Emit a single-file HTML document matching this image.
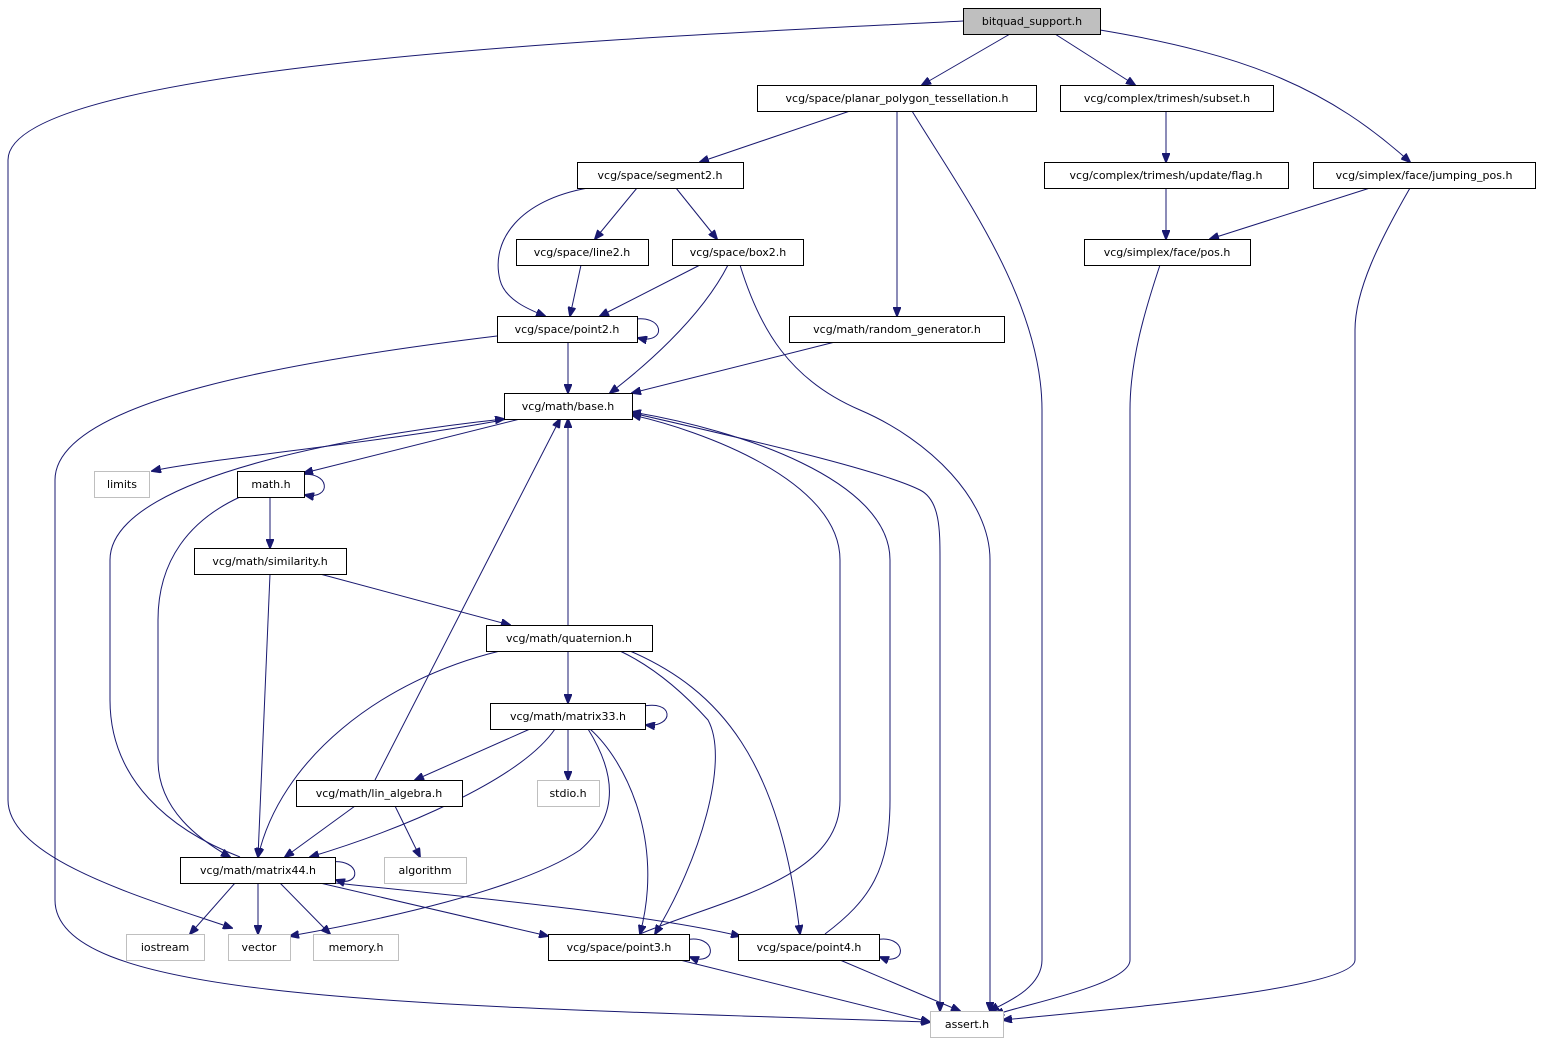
<!DOCTYPE html>
<html><head><meta charset="utf-8"><style>
html,body{margin:0;padding:0;background:#fff;}
svg{display:block;}
text{font-family:"DejaVu Sans","Liberation Sans",sans-serif;font-size:11px;fill:#000;}
.e{fill:none;stroke:#191970;stroke-width:1;marker-end:url(#a);}
.n{fill:#fff;stroke:#000;stroke-width:1;}
.g{fill:#fff;stroke:#bfbfbf;stroke-width:1;}
</style></head><body>
<svg width="1541" height="1045" viewBox="0 0 1541 1045" xmlns="http://www.w3.org/2000/svg">
<defs><marker id="a" markerWidth="10" markerHeight="8" refX="9" refY="4" orient="auto" markerUnits="userSpaceOnUse"><path d="M0,0 L10,4 L0,8 z" fill="#191970" stroke="#191970"/></marker></defs>
<g>
<path class="e" d="M963,21 C700,35 8,60 8,160 L8,800 C8,860 150,900 232,928"/>
<path class="e" d="M1010,34 L922,85"/>
<path class="e" d="M1055,34 L1135,85"/>
<path class="e" d="M1100,30 C1250,55 1330,90 1410,162"/>
<path class="e" d="M850,111 L700,162"/>
<path class="e" d="M897,111 L897,316"/>
<path class="e" d="M912,111 C960,190 1042,300 1042,410 L1042,960 C1042,990 1000,1005 990,1011"/>
<path class="e" d="M1166,111 L1166,162"/>
<path class="e" d="M1166,188 L1166,239"/>
<path class="e" d="M1370,188 L1210,239"/>
<path class="e" d="M1410,188 C1380,240 1355,290 1355,330 L1355,960 C1355,990 1100,1010 1003,1020"/>
<path class="e" d="M1160,265 C1145,310 1130,360 1130,410 L1130,960 C1130,985 1020,1005 995,1015"/>
<path class="e" d="M637,188 L595,239"/>
<path class="e" d="M676,188 L717,239"/>
<path class="e" d="M588,188 C520,200 490,240 500,280 C505,300 530,310 545,316"/>
<path class="e" d="M581,265 L570,316"/>
<path class="e" d="M700,265 L600,316"/>
<path class="e" d="M728,265 C700,320 640,370 610,393"/>
<path class="e" d="M740,265 C760,330 790,380 860,410 C930,440 990,500 990,560 L990,1011"/>
<path class="e" d="M630,320 C665,312 668,345 638,338"/>
<path class="e" d="M568,342 L568,393"/>
<path class="e" d="M497,336 C300,360 55,400 55,480 L55,900 C55,1000 400,1005 930,1022"/>
<path class="e" d="M835,342 L632,393"/>
<path class="e" d="M508,419 C400,440 200,460 152,471"/>
<path class="e" d="M520,419 L304,473"/>
<path class="e" d="M632,413 C750,440 880,470 920,490 C940,500 940,530 940,560 L940,1011"/>
<path class="e" d="M300,475 C330,470 333,500 305,495"/>
<path class="e" d="M270,497 L270,548"/>
<path class="e" d="M240,497 C190,520 158,560 158,620 L158,760 C158,810 200,840 230,857"/>
<path class="e" d="M320,574 L510,625"/>
<path class="e" d="M270,574 L258,857"/>
<path class="e" d="M568,625 L568,419"/>
<path class="e" d="M568,651 L568,703"/>
<path class="e" d="M500,651 C380,680 280,760 258,857"/>
<path class="e" d="M620,651 C660,670 690,700 708,720 C730,760 700,860 655,934"/>
<path class="e" d="M630,651 C720,690 780,760 800,934"/>
<path class="e" d="M640,707 C675,698 675,728 646,725"/>
<path class="e" d="M530,729 L415,780"/>
<path class="e" d="M568,729 L568,780"/>
<path class="e" d="M555,729 C520,780 400,830 310,857"/>
<path class="e" d="M590,729 C625,760 665,840 640,934"/>
<path class="e" d="M588,729 C620,780 615,820 580,850 C520,890 380,920 290,936"/>
<path class="e" d="M375,780 L560,419"/>
<path class="e" d="M395,806 L420,857"/>
<path class="e" d="M355,806 L285,857"/>
<path class="e" d="M240,857 C170,830 110,780 110,700 L110,560 C110,470 400,430 504,419"/>
<path class="e" d="M330,862 C362,858 362,888 336,880"/>
<path class="e" d="M235,883 L190,934"/>
<path class="e" d="M258,883 L258,934"/>
<path class="e" d="M280,883 L330,934"/>
<path class="e" d="M320,883 L548,936"/>
<path class="e" d="M335,883 C500,900 650,915 740,936"/>
<path class="e" d="M640,934 C720,900 840,880 840,800 L840,560 C840,480 700,430 632,415"/>
<path class="e" d="M685,940 C718,933 718,968 690,957"/>
<path class="e" d="M825,934 C870,900 890,870 890,800 L890,560 C890,480 740,430 632,412"/>
<path class="e" d="M875,940 C908,933 908,968 880,957"/>
<path class="e" d="M680,960 L930,1022"/>
<path class="e" d="M840,960 L960,1011"/>
</g>
<g>
<rect x="963.5" y="8.5" width="137" height="26" fill="#bfbfbf" stroke="#000"/><text x="1032" y="25" text-anchor="middle">bitquad_support.h</text>
<rect class="n" x="757.5" y="85.5" width="279" height="26"/><text x="897" y="102" text-anchor="middle">vcg/space/planar_polygon_tessellation.h</text>
<rect class="n" x="1060.5" y="85.5" width="213" height="26"/><text x="1167" y="102" text-anchor="middle">vcg/complex/trimesh/subset.h</text>
<rect class="n" x="577.5" y="162.5" width="166" height="26"/><text x="660" y="179" text-anchor="middle">vcg/space/segment2.h</text>
<rect class="n" x="1044.5" y="162.5" width="244" height="26"/><text x="1166" y="179" text-anchor="middle">vcg/complex/trimesh/update/flag.h</text>
<rect class="n" x="1313.5" y="162.5" width="222" height="26"/><text x="1424" y="179" text-anchor="middle">vcg/simplex/face/jumping_pos.h</text>
<rect class="n" x="516.5" y="239.5" width="132" height="26"/><text x="582" y="256" text-anchor="middle">vcg/space/line2.h</text>
<rect class="n" x="672.5" y="239.5" width="131" height="26"/><text x="738" y="256" text-anchor="middle">vcg/space/box2.h</text>
<rect class="n" x="1084.5" y="239.5" width="166" height="26"/><text x="1167" y="256" text-anchor="middle">vcg/simplex/face/pos.h</text>
<rect class="n" x="497.5" y="316.5" width="140" height="26"/><text x="567" y="333" text-anchor="middle">vcg/space/point2.h</text>
<rect class="n" x="789.5" y="316.5" width="215" height="26"/><text x="897" y="333" text-anchor="middle">vcg/math/random_generator.h</text>
<rect class="n" x="504.5" y="393.5" width="128" height="26"/><text x="568" y="410" text-anchor="middle">vcg/math/base.h</text>
<rect class="g" x="94.5" y="471.5" width="55" height="26"/><text x="122" y="488" text-anchor="middle">limits</text>
<rect class="n" x="237.5" y="471.5" width="67" height="26"/><text x="271" y="488" text-anchor="middle">math.h</text>
<rect class="n" x="194.5" y="548.5" width="152" height="26"/><text x="270" y="565" text-anchor="middle">vcg/math/similarity.h</text>
<rect class="n" x="486.5" y="625.5" width="166" height="26"/><text x="569" y="642" text-anchor="middle">vcg/math/quaternion.h</text>
<rect class="n" x="490.5" y="703.5" width="155" height="26"/><text x="568" y="720" text-anchor="middle">vcg/math/matrix33.h</text>
<rect class="g" x="537.5" y="780.5" width="62" height="26"/><text x="568" y="797" text-anchor="middle">stdio.h</text>
<rect class="n" x="296.5" y="780.5" width="166" height="26"/><text x="379" y="797" text-anchor="middle">vcg/math/lin_algebra.h</text>
<rect class="g" x="384.5" y="857.5" width="82" height="26"/><text x="425" y="874" text-anchor="middle">algorithm</text>
<rect class="n" x="180.5" y="857.5" width="155" height="26"/><text x="258" y="874" text-anchor="middle">vcg/math/matrix44.h</text>
<rect class="g" x="126.5" y="934.5" width="78" height="26"/><text x="165" y="951" text-anchor="middle">iostream</text>
<rect class="g" x="228.5" y="934.5" width="62" height="26"/><text x="259" y="951" text-anchor="middle">vector</text>
<rect class="g" x="313.5" y="934.5" width="85" height="26"/><text x="356" y="951" text-anchor="middle">memory.h</text>
<rect class="n" x="548.5" y="934.5" width="141" height="26"/><text x="619" y="951" text-anchor="middle">vcg/space/point3.h</text>
<rect class="n" x="738.5" y="934.5" width="141" height="26"/><text x="809" y="951" text-anchor="middle">vcg/space/point4.h</text>
<rect class="g" x="930.5" y="1011.5" width="73" height="26"/><text x="967" y="1028" text-anchor="middle">assert.h</text>
</g>
</svg>
</body></html>
